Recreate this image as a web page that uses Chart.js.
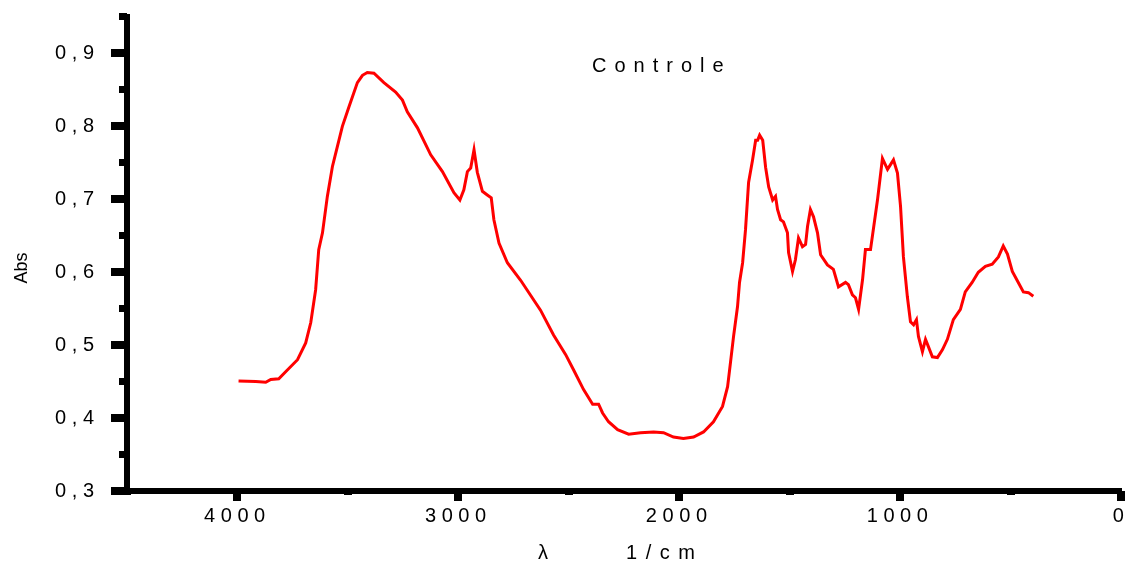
<!DOCTYPE html>
<html>
<head>
<meta charset="utf-8">
<title>Controle</title>
<script src="https://cdn.jsdelivr.net/npm/chart.js@4.4.1/dist/chart.umd.min.js"></script>
<style>
    body{ margin:0; background:#fff; }
    canvas{ display:block; }
</style>
</head>
<body>

<canvas id="spectrumChart" width="1128" height="567"></canvas>

<script>

// ==========================
// DATA
// ==========================

const wavenumbers = [
    3995,3917,3872,3849,3813,3774,3728,3691,3668,3646,
    3632,3615,3593,3570,3548,3525,3495,3457,3434,3412,
    3382,3337,3284,3253,3231,3185,3125,3072,3020,2993,
    2975,2959,2944,2929,2914,2891,2869,2851,2839,2816,
    2778,2718,2628,2569,2514,2478,2433,2392,2365,2347,
    2320,2279,2229,2175,2116,2071,2026,1981,1935,1890,
    1845,1804,1781,1768,1754,1736,1727,1713,1700,1686,
    1668,1654,1645,1636,1622,1609,1595,1577,1564,1555,
    1541,1528,1510,1505,1487,1474,1460,1442,1428,1419,
    1406,1392,1374,1360,1329,1302,1279,1247,1234,1216,
    1202,1188,1170,1157,1134,1102,1080,1057,1030,1012,
    998,985,967,953,939,926,917,899,885,872,
    854,831,808,786,759,727,705,674,646,614,
    583,555,533,514,492,465,442,419,397
];

const absorbance = [
    0.451,0.450,0.449,0.453,0.454,0.466,0.480,0.503,0.531,0.576,
    0.631,0.654,0.704,0.745,0.772,0.800,0.827,0.860,0.870,0.874,
    0.873,0.860,0.847,0.836,0.820,0.798,0.761,0.738,0.709,0.699,
    0.713,0.738,0.743,0.768,0.737,0.711,0.706,0.702,0.672,0.640,
    0.613,0.589,0.548,0.514,0.487,0.466,0.439,0.419,0.419,0.407,
    0.395,0.384,0.378,0.380,0.381,0.380,0.374,0.372,0.374,0.381,
    0.395,0.416,0.443,0.476,0.512,0.553,0.586,0.613,0.658,0.723,
    0.754,0.781,0.781,0.788,0.781,0.744,0.717,0.699,0.704,0.686,
    0.672,0.669,0.654,0.627,0.601,0.617,0.647,0.635,0.638,0.663,
    0.686,0.676,0.654,0.624,0.610,0.604,0.580,0.586,0.583,0.569,
    0.565,0.549,0.590,0.631,0.631,0.700,0.756,0.741,0.754,0.736,
    0.690,0.621,0.566,0.532,0.528,0.535,0.512,0.491,0.508,0.498,
    0.484,0.483,0.494,0.508,0.535,0.549,0.573,0.586,0.600,0.608,
    0.611,0.621,0.636,0.625,0.601,0.586,0.573,0.572,0.567
];

const xTicks = [4000,3000,2000,1000,0];
const xMinorTicks = [4500,3500,2500,1500,500];
const yTicks = [0.3,0.4,0.5,0.6,0.7,0.8,0.9];
const yMinorTicks = [0.35,0.45,0.55,0.65,0.75,0.85,0.95];

const points = wavenumbers.map((w, i) => ({ x: w, y: absorbance[i] }));

// spaced out labels like the original plot
function spaced(text){
    return String(text).split("").join(" ");
}

const FONT = "Liberation Sans, Arial, sans-serif";

// no extra room for overhanging labels
function noPadding(scale){
    scale.paddingTop = 0;
    scale.paddingBottom = 0;
    scale.paddingLeft = 0;
    scale.paddingRight = 0;
}

// ==========================
// AXIS DECORATION
// ==========================

const axisDecor = {

    id: "axisDecor",

    afterDraw(chart){

        const ctx = chart.ctx;
        const xs = chart.scales.x;
        const ys = chart.scales.y;
        const axisX = chart.chartArea.left;
        const axisY = chart.chartArea.bottom;

        ctx.save();
        ctx.fillStyle = "#000";

        // y ticks (outside, left)
        yTicks.forEach(v => {
            const py = Math.round(ys.getPixelForValue(v));
            ctx.fillRect(axisX - 16, py - 4, 16, 8);
        });

        yMinorTicks.forEach(v => {
            const py = Math.round(ys.getPixelForValue(v));
            ctx.fillRect(axisX - 8, py - 4, 8, 7);
        });

        // x ticks (outside, below)
        xTicks.forEach(v => {
            const px = Math.round(xs.getPixelForValue(v));
            ctx.fillRect(px - 4, axisY, 8, 10);
        });

        xMinorTicks.forEach(v => {
            const px = Math.round(xs.getPixelForValue(v));
            ctx.fillRect(px - 4, axisY, 8, 4);
        });

        // texts
        ctx.textBaseline = "middle";
        ctx.textAlign = "left";

        ctx.font = "20px " + FONT;
        ctx.letterSpacing = "8px";
        ctx.fillText("Controle", 592, 66);

        ctx.letterSpacing = "0px";
        ctx.fillText("λ", 538, 553);

        ctx.letterSpacing = "1.5px";
        ctx.fillText("1 / c m", 626, 553);
        ctx.letterSpacing = "0px";

        ctx.font = "18px " + FONT;
        ctx.translate(22, 268);
        ctx.rotate(-Math.PI / 2);
        ctx.textAlign = "center";
        ctx.fillText("Abs", 0, 0);

        ctx.restore();

    }

};

// ==========================
// CHART
// ==========================

new Chart(document.getElementById("spectrumChart"), {

    type: "line",

    data: {

        datasets: [{

            label: "Controle",

            data: points,

            borderColor: "#ff0000",

            borderWidth: 3,

            pointRadius: 0,

            tension: 0,

            fill: false

        }]

    },

    options: {

        responsive: false,

        animation: false,

        devicePixelRatio: 1,

        layout: {
            padding: { top: 17, right: 7, left: 0, bottom: 0 }
        },

        plugins: {
            legend: { display: false },
            tooltip: { enabled: false }
        },

        scales: {

            x: {

                type: "linear",

                reverse: true,

                min: 0,

                max: 4500,

                afterBuildTicks: scale => {
                    scale.ticks = xTicks.map(v => ({ value: v }));
                },

                afterFit: scale => {
                    scale.height = 76;
                    noPadding(scale);
                },

                grid: { display: false },

                border: { display: true, width: 6, color: "#000" },

                ticks: {
                    color: "#000",
                    font: { family: FONT, size: 20 },
                    padding: 5,
                    maxRotation: 0,
                    autoSkip: false,
                    callback: v => spaced(v) + " "
                }

            },

            y: {

                min: 0.3,

                max: 0.95,

                afterBuildTicks: scale => {
                    scale.ticks = yTicks.map(v => ({ value: v }));
                },

                afterFit: scale => {
                    scale.width = 127;
                    noPadding(scale);
                },

                grid: { display: false },

                border: { display: true, width: 6, color: "#000" },

                ticks: {
                    color: "#000",
                    font: { family: FONT, size: 20 },
                    padding: 25,
                    autoSkip: false,
                    callback: v => spaced(v.toFixed(1).replace(".", ","))
                }

            }

        }

    },

    plugins: [axisDecor]

});

</script>

</body>
</html>
